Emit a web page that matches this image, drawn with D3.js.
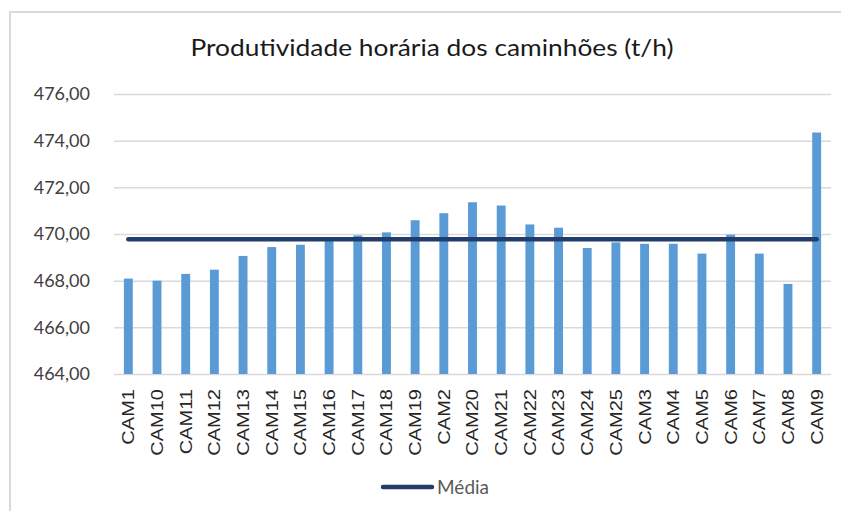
<!DOCTYPE html>
<html>
<head>
<meta charset="utf-8">
<script src="https://cdn.jsdelivr.net/npm/d3@7"></script>
<style>
  body { margin: 0; background: #fff; }
  svg { display: block; }
</style>
</head>
<body>
<svg id="chart" width="841" height="511"></svg>
<script>
// categories and values
const categories = ["CAM1", "CAM10", "CAM11", "CAM12", "CAM13", "CAM14", "CAM15", "CAM16", "CAM17",
  "CAM18", "CAM19", "CAM2", "CAM20", "CAM21", "CAM22", "CAM23", "CAM24", "CAM25", "CAM3", "CAM4",
  "CAM5", "CAM6", "CAM7", "CAM8", "CAM9"];
const produtividade = [468.09, 468.00, 468.29, 468.47, 469.06, 469.44, 469.54, 469.77, 469.94,
  470.07, 470.59, 470.89, 471.36, 471.22, 470.41, 470.27, 469.40, 469.64, 469.58, 469.58,
  469.16, 469.97, 469.16, 467.86, 474.35];
const media = 469.78;
const yTicks = [464, 466, 468, 470, 472, 474, 476];
const title = "Produtividade horária dos caminhões (t/h)";
const legendLabel = "Média";

const svg = d3.select("#chart");

// plot area
const plotLeft = 114, plotRight = 831, plotTop = 94, plotBottom = 374;

const x = d3.scaleBand()
  .domain(categories)
  .range([plotLeft, plotRight])
  .paddingInner(0.69)
  .paddingOuter(0.345);

const y = d3.scaleLinear()
  .domain([464, 476])
  .range([plotBottom, plotTop]);

const ptBR = d3.formatLocale({ decimal: ",", thousands: ".", grouping: [3], currency: ["R$", ""] });
const fmt = ptBR.format(".2f");

// chart border
svg.append("rect")
  .attr("x", 10)
  .attr("y", 12)
  .attr("width", 850)
  .attr("height", 520)
  .attr("fill", "none")
  .attr("stroke", "#d9d9d9")
  .attr("stroke-width", 2);

// title (stretched a little to match the wide source font)
svg.append("text")
  .attr("x", 432)
  .attr("y", 56)
  .attr("text-anchor", "middle")
  .attr("font-family", "Lato, 'Open Sans', sans-serif")
  .attr("font-size", 23)
  .attr("fill", "#1a1a1a")
  .attr("textLength", 483)
  .attr("lengthAdjust", "spacingAndGlyphs")
  .text(title);

// gridlines + y labels
const yAxis = d3.axisLeft(y)
  .tickValues(yTicks)
  .tickSize(-(plotRight - plotLeft))
  .tickPadding(24)
  .tickFormat(fmt);

const yG = svg.append("g")
  .attr("transform", `translate(${plotLeft},0)`)
  .call(yAxis);
yG.select(".domain").remove();
yG.selectAll(".tick line").attr("stroke", "#d9d9d9").attr("stroke-width", 1.5);
yG.selectAll(".tick text")
  .attr("font-family", "Lato, 'Open Sans', sans-serif")
  .attr("font-size", 18)
  .attr("fill", "#404040");

// bars
svg.append("g")
  .selectAll("rect")
  .data(produtividade)
  .join("rect")
  .attr("x", (d, i) => x(categories[i]))
  .attr("y", (d) => y(d))
  .attr("width", x.bandwidth())
  .attr("height", (d) => y(464) - y(d))
  .attr("fill", "#5b9bd5");

// mean line
const mid = (c) => x(c) + x.bandwidth() / 2;
svg.append("line")
  .attr("x1", mid(categories[0]))
  .attr("x2", mid(categories[categories.length - 1]))
  .attr("y1", y(media))
  .attr("y2", y(media))
  .attr("stroke", "#223d6b")
  .attr("stroke-width", 4.5)
  .attr("stroke-linecap", "round");

// x labels (rotated, stretched along the text)
svg.append("g")
  .selectAll("text")
  .data(categories)
  .join("text")
  .attr("transform", (d) => `translate(${mid(d)},389) rotate(-90) scale(1.18,1)`)
  .attr("text-anchor", "end")
  .attr("dy", "0.35em")
  .attr("font-family", "'Liberation Sans', Arial, sans-serif")
  .attr("font-size", 17)
  .attr("fill", "#262626")
  .text((d) => d);

// legend
const lg = svg.append("g").attr("transform", "translate(383,487)");
lg.append("line")
  .attr("x1", 0)
  .attr("x2", 49)
  .attr("stroke", "#223d6b")
  .attr("stroke-width", 4.5)
  .attr("stroke-linecap", "round");
lg.append("text")
  .attr("x", 54)
  .attr("dy", "0.35em")
  .attr("font-family", "Lato, 'Open Sans', sans-serif")
  .attr("font-size", 19)
  .attr("fill", "#595959")
  .text(legendLabel);
</script>
</body>
</html>
